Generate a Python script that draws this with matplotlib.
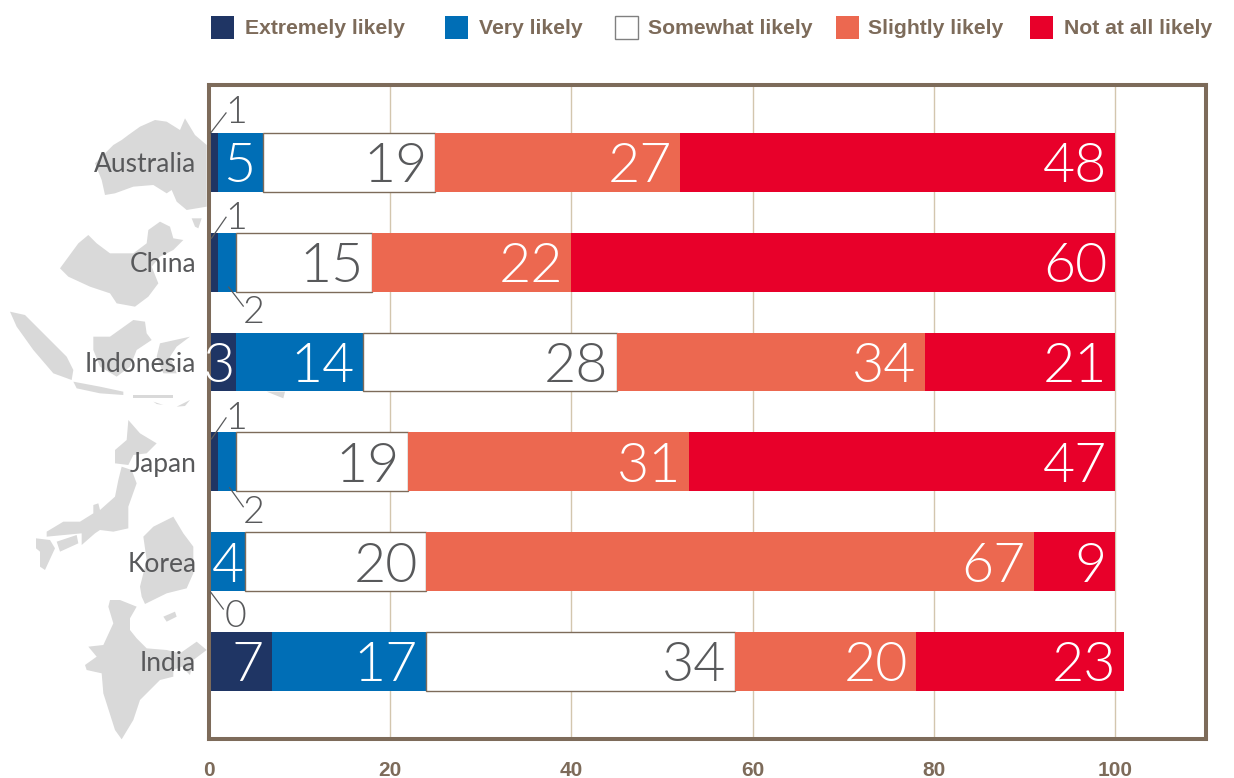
import numpy as np
import matplotlib
matplotlib.use('Agg')
import matplotlib.pyplot as plt
from matplotlib.patches import Polygon, Rectangle

W, H = 1234, 778

countries = ['Australia', 'China', 'Indonesia', 'Japan', 'Korea', 'India']
levels = ['Extremely likely', 'Very likely', 'Somewhat likely', 'Slightly likely', 'Not at all likely']
extremely = [1, 1, 3, 1, 0, 7]
very = [5, 2, 14, 2, 4, 17]
somewhat = [19, 15, 28, 19, 20, 34]
slightly = [27, 22, 34, 31, 67, 20]
not_at_all = [48, 60, 21, 47, 9, 23]
xticks = [0, 20, 40, 60, 80, 100]

colors = ['#1F3564', '#006EB6', '#FFFFFF', '#EC6850', '#E8002A']
brown = '#7D6B5A'
grid_col = '#D3C6AE'
grey = '#58595B'
map_col = '#D9D9D9'

# country outlines behind the labels, traced in zoom pixels (3x)
map_top = [
    [(620,195),(585,165),(555,115),(540,150),(500,125),(465,120),(420,140),(385,165),(365,180),(340,195),(310,225),(285,250),(305,300),(315,345),(345,340),(400,320),(460,315),(500,340),(515,330),(530,365),(560,390),(620,380)],
    [(575,415),(605,415),(595,445),(585,440)],
    [(180,565),(235,490),(265,465),(290,490),(330,520),(400,520),(440,490),(445,450),(480,425),(510,440),(520,475),(550,480),(520,510),(480,530),(455,560),(475,610),(445,650),(405,680),(350,670),(330,640),(270,620),(205,590)],
    [(30,695),(75,705),(130,760),(200,830),(220,870),(215,900),(160,880),(100,810),(50,740)],
    [(280,770),(330,770),(400,720),(435,725),(440,760),(455,780),(410,810),(390,860),(350,890),(300,860),(280,810)],
    [(480,790),(570,770),(530,800),(510,830),(530,880),(490,880),(470,830)],
    [(220,905),(300,920),(370,935),(370,945),(300,940),(230,925)],
    [(400,945),(520,945),(520,955),(400,955)],
    [(800,935),(855,935),(850,955)],
]
map_bottom = [
    [(385,60),(420,100),(470,130),(440,160),(400,165),(385,195),(345,190),(345,150),(380,120)],
    [(365,200),(395,210),(410,250),(385,320),(385,385),(340,395),(300,390),(285,400),(245,435),(245,400),(140,410),(140,395),(190,365),(240,365),(280,340),(280,315),(295,310),(300,330),(345,290),(355,240)],
    [(170,425),(230,405),(235,430),(180,455)],
    [(108,415),(150,420),(165,445),(135,510),(120,500),(120,455),(108,445)],
    [(520,350),(550,400),(580,440),(580,520),(560,565),(500,580),(435,612),(425,590),(420,560),(440,480),(430,410),(460,380)],
    [(490,650),(525,635),(530,650),(500,665)],
    [(330,600),(360,600),(410,620),(390,655),(390,690),(410,715),(440,745),(500,750),(540,760),(590,725),(620,750),(580,780),(570,825),(545,800),(520,810),(520,830),(480,840),(420,900),(400,960),(365,1018),(345,990),(310,880),(305,820),(260,810),(255,795),(290,770),(265,740),(310,735),(340,670),(325,620)],
    [(460,5),(490,15),(470,12)],
    [(530,20),(570,0),(555,18)],
]

def fx(x):
    return x / W

def fy(y):
    return 1 - y / H

thin = 'Lato'

fig = plt.figure(figsize=(W / 100, H / 100), dpi=100, facecolor='white')

for poly in map_top:
    fig.add_artist(Polygon([(fx(x / 3), fy(y / 3 + 80)) for x, y in poly], closed=True, fc=map_col, ec='none', transform=fig.transFigure, zorder=0))
for poly in map_bottom:
    fig.add_artist(Polygon([(fx(x / 3), fy(y / 3 + 400)) for x, y in poly], closed=True, fc=map_col, ec='none', transform=fig.transFigure, zorder=0))

ax = fig.add_axes([fx(208.8), fy(739.3), (1205.9 - 208.8) / W, (739.3 - 84.5) / H], zorder=1)
ax.patch.set_alpha(0)
ax.set_xlim(0, 110)
ax.set_ylim(5.78, -0.78)
ax.set_axisbelow(True)
ax.xaxis.grid(True, color=grid_col, lw=1)
for s in ax.spines.values():
    s.set_color(brown)
    s.set_linewidth(2.9)

y = np.arange(len(countries))
series = [extremely, very, somewhat, slightly, not_at_all]
left = np.zeros(len(countries))
for k, vals in enumerate(series):
    ec = brown if k == 2 else 'none'
    ax.barh(y, vals, left=left, height=0.59, color=colors[k], edgecolor=ec, linewidth=1 if k == 2 else 0, zorder=2)
    for i, v in enumerate(vals):
        if v >= 3:
            tc = grey if k == 2 else 'white'
            gap = 0.1 if v <= 4 else 0.9
            ax.text(left[i] + v - gap, i, str(v), ha='right', va='center_baseline', fontsize=40, fontweight=300, family=thin, color=tc, zorder=3)
    left += np.array(vals)

def small_label(txt, i, x0, y0, x1, y1, tx, ty):
    # value too small for its bar: number outside, thin leader to the bar
    ax.plot([x0, x1], [i + y0, i + y1], color=grey, lw=0.9, zorder=4, clip_on=False)
    ax.text(tx, i + ty, txt, fontsize=27, fontweight=300, family=thin, color=grey, ha='center', va='center_baseline', zorder=4)

small_label('1', 0, 0.2, -0.295, 1.9, -0.495, 3.0, -0.525)
small_label('1', 1, 0.3, -0.24, 1.9, -0.45, 3.0, -0.47)
small_label('2', 1, 2.2, 0.25, 3.8, 0.44, 4.9, 0.47)
small_label('1', 3, 0.3, -0.23, 1.9, -0.44, 3.0, -0.46)
small_label('2', 3, 2.3, 0.26, 3.8, 0.45, 4.9, 0.48)
small_label('0', 4, 0.2, 0.305, 1.6, 0.475, 2.9, 0.52)

ax.set_yticks(y)
ax.set_yticklabels(countries, fontsize=19, family=thin, color=grey)
ax.set_xticks(xticks)
ax.set_xticklabels(xticks, fontsize=15, fontweight='bold', family='Liberation Sans', color=brown)
ax.tick_params(axis='both', length=0)
ax.tick_params(axis='y', pad=9)
ax.tick_params(axis='x', pad=15.5)

leg_box = [211, 445, 615, 836, 1030]
leg_text = [245, 479, 648, 868, 1064]
for k, name in enumerate(levels):
    fig.add_artist(Rectangle((fx(leg_box[k]), fy(39)), 23 / W, 23 / H, fc=colors[k], ec='#808080' if k == 2 else 'none', lw=1, transform=fig.transFigure))
    fig.text(fx(leg_text[k]), fy(28), name, fontsize=15.2, fontweight='bold', family='Liberation Sans', color=brown, ha='left', va='center')

fig.savefig('out.png', dpi=100)
